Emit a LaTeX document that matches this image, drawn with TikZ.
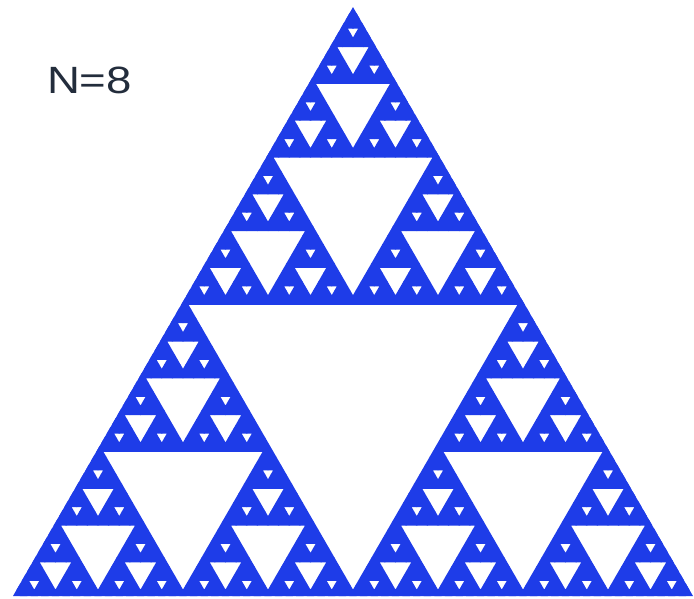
\documentclass[tikz,border=0pt]{standalone}
\usepackage{fontspec}
\usepackage{xcolor}
\usepackage{tikz}
\newfontfamily\labelfont{Liberation Sans}
\definecolor{sierblue}{RGB}{30,60,232}
\definecolor{labelgray}{RGB}{35,45,60}

% one hole per level: #1,#2 apex of the triangle, #3 its side, #4 levels left, #5 style
\newcommand{\sierhole}[5]{%
  \ifnum#4>0\relax
    \begingroup
      \pgfmathsetmacro{\sq}{#3/4}%
      \pgfmathsetmacro{\sh}{#3/2}%
      \pgfmathsetmacro{\hh}{#3*0.4330127}%
      \pgfmathtruncatemacro{\dn}{#4-1}%
      \pgfmathsetmacro{\xl}{#1-\sq}%
      \pgfmathsetmacro{\xr}{#1+\sq}%
      \pgfmathsetmacro{\ym}{#2+\hh}%
      \pgfmathsetmacro{\yb}{#2+2*\hh}%
      \path[#5] (\xl,\ym) -- (\xr,\ym) -- (#1,\yb) -- cycle;
      \edef\next{\noexpand\sierhole{#1}{#2}{\sh}{\dn}{#5}%
                 \noexpand\sierhole{\xl}{\ym}{\sh}{\dn}{#5}%
                 \noexpand\sierhole{\xr}{\ym}{\sh}{\dn}{#5}}%
      \next
    \endgroup
  \fi}

\begin{document}
\begin{tikzpicture}[x=1pt,y=-1pt,
    holefill/.style={fill=white},
    holeedge/.style={draw=sierblue,line width=6.4pt,line join=round},
    every node/.style={font=\labelfont\fontsize{38}{40}\selectfont,text=labelgray}]
  \useasboundingbox[fill=white] (0,0) rectangle (694,598);
  \coordinate (top) at (353,7.1);
  \coordinate (left) at (13,596);
  \coordinate (right) at (693,596);
  \fill[sierblue] (top) -- (left) -- (right) -- cycle;
  \begin{scope}
    \clip (top) -- (left) -- (right) -- cycle;
    % white holes first, then their blue rims over all of them
    \sierhole{353}{7.1}{680}{6}{holefill}
    \sierhole{353}{7.1}{680}{6}{holeedge}
  \end{scope}
  \node[xscale=1.2] (label) at (89.5,80.5) {N=8};
\end{tikzpicture}
\end{document}
